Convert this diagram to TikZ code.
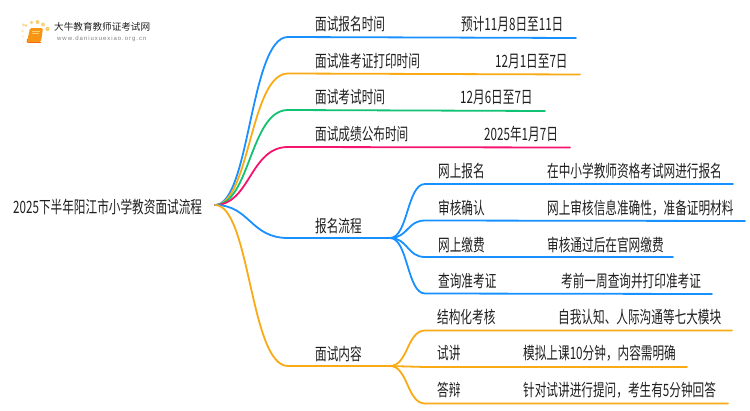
\documentclass[tikz,border=0pt]{standalone}
\usepackage{fontspec}
\setmainfont{Noto Sans CJK SC}[FakeStretch=0.685]
\newfontfamily\logofont{Noto Sans CJK SC}
\newfontfamily\urlfont[LetterSpace=16]{Liberation Sans}
\usetikzlibrary{positioning}

\definecolor{lineblue}{RGB}{24,144,255}
\definecolor{lineorange}{RGB}{250,170,20}
\definecolor{linegreen}{RGB}{18,194,115}
\definecolor{linepink}{RGB}{245,20,110}
\definecolor{textdark}{RGB}{30,30,30}
\definecolor{bookorange}{RGB}{247,150,20}
\definecolor{sunyellow}{RGB}{250,205,110}

\tikzset{
  label/.style={inner sep=0pt, anchor=west, yshift=-1pt, text=textdark, font=\fontsize{17}{17}\selectfont},
  branch/.style={line width=1.8pt, line cap=round},
}

\begin{document}
\begin{tikzpicture}[x=1pt, y=-1pt]
  \useasboundingbox (0,0) rectangle (750,410);

  % logo
  \fill[bookorange, rounded corners=1.5pt] (30,28) -- (43,28) -- (41,42) -- (27,42) -- cycle;
  \draw[bookorange!70!red, line width=.9pt, rounded corners=1pt] (27.5,39) -- (27,42.5) -- (41,42.5);
  \draw[sunyellow, line width=.6pt] (32,31) -- (40,31) (31.5,33.5) -- (39,33.5);
  \foreach \px/\py/\pr/\po in {23.5/25/1.6/.7, 26/25.5/1.5/.8, 31.5/22.5/1.9/.9, 37.5/22/2/1, 43/24.5/2/.9, 47.5/29/2.2/1, 22.5/31/1.3/.5, 23/36.5/1.1/.4, 23.5/42.5/1/.25}
    \fill[sunyellow, opacity=\po] (\px,\py) circle (\pr);
  \node[inner sep=0pt, anchor=west, text=textdark] (logotitle) at (54,27) {\logofont\fontsize{9.6}{10}\selectfont 大牛教育教师证考试网};
  \node[inner sep=0pt, anchor=west, text=black!50] (logourl) at (57,39) {\urlfont\fontsize{6}{7}\selectfont www.daniuxuexiao.org.cn};

  % root
  \node[label] (root) at (13,206) {2025下半年阳江市小学教资面试流程};
  \coordinate (hub) at (215,205);

  % first level
  \coordinate (k1) at (288,37);   \coordinate (k1end) at (576,38);
  \coordinate (k2) at (288,73.5); \coordinate (k2end) at (580,74.5);
  \coordinate (k3) at (288,110);  \coordinate (k3end) at (545,111);
  \coordinate (k4) at (288,147);  \coordinate (k4end) at (570,147.5);
  \coordinate (k5) at (288,238);  \coordinate (k5hub) at (390,238);
  \coordinate (k6) at (288,366);  \coordinate (k6hub) at (390,366);

  \node[label] (t1) at (315,23) {面试报名时间};
  \node[label] (v1) at (461,23) {预计11月8日至11日};
  \node[label] (t2) at (315,60) {面试准考证打印时间};
  \node[label] (v2) at (495,60) {12月1日至7日};
  \node[label] (t3) at (315,96) {面试考试时间};
  \node[label] (v3) at (460,96) {12月6日至7日};
  \node[label] (t4) at (315,133) {面试成绩公布时间};
  \node[label] (v4) at (484,133) {2025年1月7日};
  \node[label] (t5) at (315,225) {报名流程};
  \node[label] (t6) at (315,353) {面试内容};

  \draw[branch, lineblue] (hub) .. controls +(35,0) and +(-38,0) .. (k1) -- (k1end);
  \draw[branch, lineorange] (hub) .. controls +(35,0) and +(-38,0) .. (k2) -- (k2end);
  \draw[branch, linegreen] (hub) .. controls +(35,0) and +(-38,0) .. (k3) -- (k3end);
  \draw[branch, linepink] (hub) .. controls +(35,0) and +(-38,0) .. (k4) -- (k4end);
  \draw[branch, lineblue] (hub) .. controls +(35,0) and +(-38,0) .. (k5) -- (k5hub);
  \draw[branch, lineorange] (hub) .. controls +(35,0) and +(-38,0) .. (k6) -- (k6hub);

  % second level, sign up
  \coordinate (s1) at (425,184);  \coordinate (s1end) at (733,184);
  \coordinate (s2) at (425,220.5);\coordinate (s2end) at (745,221);
  \coordinate (s3) at (425,257);  \coordinate (s3end) at (673,257);
  \coordinate (s4) at (425,293.5);\coordinate (s4end) at (712,294);

  \node[label] (a1) at (438,170) {网上报名};
  \node[label] (b1) at (547,170) {在中小学教师资格考试网进行报名};
  \node[label] (a2) at (438,207) {审核确认};
  \node[label] (b2) at (547,207) {网上审核信息准确性，准备证明材料};
  \node[label] (a3) at (438,244) {网上缴费};
  \node[label] (b3) at (547,244) {审核通过后在官网缴费};
  \node[label] (a4) at (438,280) {查询准考证};
  \node[label] (b4) at (561,280) {考前一周查询并打印准考证};

  \foreach \n in {1,...,4}
    \draw[branch, lineblue] (k5hub) .. controls +(18,0) and +(-18,0) .. (s\n) -- (s\n end);

  % second level, interview
  \coordinate (c1) at (425,330.5); \coordinate (c1end) at (732,330.5);
  \coordinate (c2) at (425,367);   \coordinate (c2end) at (687,367);
  \coordinate (c3) at (425,403.5); \coordinate (c3end) at (728,403.5);

  \node[label] (d1) at (437,316) {结构化考核};
  \node[label] (e1) at (558,316) {自我认知、人际沟通等七大模块};
  \node[label] (d2) at (437,352) {试讲};
  \node[label] (e2) at (523,352) {模拟上课10分钟，内容需明确};
  \node[label] (d3) at (437,389) {答辩};
  \node[label] (e3) at (523,389) {针对试讲进行提问，考生有5分钟回答};

  \foreach \n in {1,...,3}
    \draw[branch, lineorange] (k6hub) .. controls +(18,0) and +(-18,0) .. (c\n) -- (c\n end);
\end{tikzpicture}
\end{document}
